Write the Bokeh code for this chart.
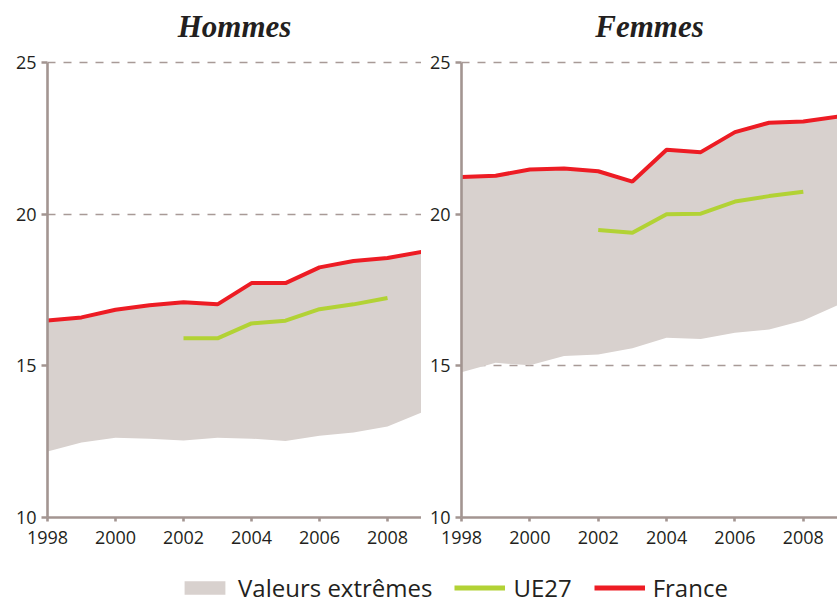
from bokeh.plotting import figure
from bokeh.models import Range1d, FixedTicker, Legend, LegendItem
from bokeh.layouts import column, row
from bokeh.embed import file_html
from bokeh.resources import INLINE

# ---- data ----
years = [1998, 1999, 2000, 2001, 2002, 2003, 2004, 2005, 2006, 2007, 2008, 2009]
ue_years = [2002, 2003, 2004, 2005, 2006, 2007, 2008]

hommes_france = [16.50, 16.60, 16.85, 17.00, 17.10, 17.03, 17.73, 17.73, 18.25, 18.46, 18.56, 18.76]
hommes_ue27 = [15.91, 15.91, 16.40, 16.49, 16.87, 17.03, 17.24]
hommes_min = [12.18, 12.47, 12.63, 12.60, 12.54, 12.63, 12.60, 12.52, 12.70, 12.80, 13.00, 13.46]
hommes_max = hommes_france

femmes_france = [21.23, 21.27, 21.48, 21.51, 21.42, 21.08, 22.13, 22.05, 22.71, 23.02, 23.06, 23.22]
femmes_ue27 = [19.48, 19.39, 20.00, 20.02, 20.42, 20.60, 20.74]
femmes_min = [14.79, 15.10, 15.02, 15.33, 15.38, 15.58, 15.93, 15.89, 16.09, 16.20, 16.50, 17.00]
femmes_max = femmes_france

x_ticks = [1998, 2000, 2002, 2004, 2006, 2008]
y_ticks = [10, 15, 20, 25]
labels = ["Valeurs extrêmes", "UE27", "France"]

AXIS = "#A39591"
GRID = "#A89A97"
BAND = "#D8D1CE"
RED = "#ED1C24"
GREEN = "#B2D235"
TXT = "#231F20"
FONT = "Open Sans"

Y_TOP = 25.6  # a little white room above the 25 line, under the title


def panel(title, width, border_left, france, ue27, vmin, vmax):
    p = figure(width=width, height=566, output_backend="svg", toolbar_location=None,
               x_range=Range1d(1998, 2009), y_range=Range1d(10, Y_TOP),
               min_border_left=border_left, min_border_right=0,
               min_border_top=44, min_border_bottom=49)
    p.title.text = title
    p.title.align = "center"
    p.title.text_font = "Liberation Serif"
    p.title.text_font_style = "bold italic"
    p.title.text_font_size = "31px"
    p.title.text_color = TXT
    p.title.standoff = 2
    p.outline_line_color = None
    p.background_fill_color = "white"
    p.border_fill_color = "white"

    p.varea(x=years, y1=vmin, y2=vmax, fill_color=BAND)
    p.line(x=ue_years, y=ue27, line_color=GREEN, line_width=4)
    p.line(x=years, y=france, line_color=RED, line_width=4)

    p.xgrid.visible = False
    p.ygrid.ticker = FixedTicker(ticks=[15, 20, 25])
    p.ygrid.grid_line_color = GRID
    p.ygrid.grid_line_dash = "8 8"
    p.ygrid.grid_line_width = 1.5

    p.xaxis.ticker = FixedTicker(ticks=x_ticks)
    p.yaxis.ticker = FixedTicker(ticks=y_ticks)
    p.yaxis.bounds = (10, 25)
    for ax in (p.xaxis, p.yaxis):
        ax.axis_line_color = AXIS
        ax.axis_line_width = 2.6
        ax.major_tick_line_color = AXIS
        ax.major_tick_line_width = 2.6
        ax.minor_tick_line_color = None
        ax.major_tick_in = 0
        ax.major_label_text_font = FONT
        ax.major_label_text_font_size = "18px"
        ax.major_label_text_color = TXT
    p.xaxis.major_tick_out = 4
    p.xaxis.major_label_standoff = 9
    p.yaxis.major_tick_out = 6
    p.yaxis.major_label_standoff = 5
    return p


p1 = panel("Hommes", 421, 47, hommes_france, hommes_ue27, hommes_min, hommes_max)
p2 = panel("Femmes", 416, 40, femmes_france, femmes_ue27, femmes_min, femmes_max)

# ---- legend strip (renderers kept out of view; only their legend swatches show) ----
pl = figure(width=837, height=42, output_backend="svg", toolbar_location=None,
            x_range=Range1d(0, 1), y_range=Range1d(0, 1),
            min_border_left=0, min_border_right=0, min_border_top=0, min_border_bottom=0)
pl.axis.visible = False
pl.grid.visible = False
pl.outline_line_color = None
r_band = pl.varea(x=years, y1=hommes_min, y2=hommes_max, fill_color=BAND)
r_ue = pl.line(x=ue_years, y=hommes_ue27, line_color=GREEN, line_width=5)
r_fr = pl.line(x=years, y=hommes_france, line_color=RED, line_width=5)
leg = Legend(items=[LegendItem(label=labels[0], renderers=[r_band]),
                    LegendItem(label=labels[1], renderers=[r_ue]),
                    LegendItem(label=labels[2], renderers=[r_fr])],
             orientation="horizontal", location=(179, 4),
             glyph_width=51, glyph_height=17, label_standoff=8, spacing=22,
             padding=0, margin=0, border_line_color=None, background_fill_alpha=0,
             label_text_font=FONT, label_text_font_size="24px", label_text_color=TXT)
pl.add_layout(leg, "center")

layout = column(row(p1, p2), pl)
open("out.html", "w").write(file_html(layout, INLINE))
